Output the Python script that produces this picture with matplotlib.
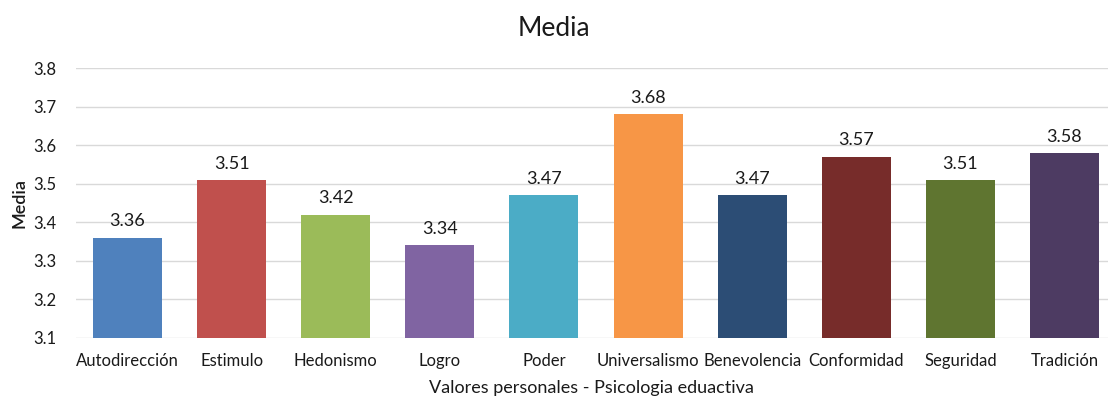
import matplotlib
matplotlib.use("Agg")
import matplotlib.pyplot as plt

categories = ["Autodirección", "Estimulo", "Hedonismo", "Logro", "Poder",
              "Universalismo", "Benevolencia", "Conformidad", "Seguridad", "Tradición"]
values = [3.36, 3.51, 3.42, 3.34, 3.47, 3.68, 3.47, 3.57, 3.51, 3.58]
colors = ["#4F81BD", "#C0504D", "#9BBB59", "#8064A2", "#4BACC6",
          "#F79646", "#2C4D75", "#772C2A", "#5F7530", "#4D3B62"]
yticks = [3.1, 3.2, 3.3, 3.4, 3.5, 3.6, 3.7, 3.8]

plt.rcParams['font.family'] = ['Lato', 'DejaVu Sans']
text_color = "#1a1a1a"

fig = plt.figure(figsize=(11.08, 4.01), dpi=100)
ax = fig.add_axes([75.5 / 1108, (401 - 338) / 401, (1108 - 75.5) / 1108, (338 - 68) / 401])

x = list(range(len(categories)))
ax.bar(x, [v - 3.1 for v in values], bottom=3.1, width=0.663, color=colors, zorder=3)
for xi, v in zip(x, values):
    ax.annotate(f"{v:.2f}", (xi, v), xytext=(0, 6), textcoords="offset points",
                ha="center", va="bottom", fontsize=13, color=text_color)

ax.set_ylim(3.1, 3.8)
ax.set_xlim(-0.5, 9.5 - 8.5 / 104.1)
ax.set_yticks(yticks)
ax.set_yticklabels([f"{t:.1f}" for t in yticks])
ax.set_xticks(x)
ax.set_xticklabels(categories)
ax.yaxis.grid(True, color="#D9D9D9", linewidth=1, zorder=0)
ax.set_axisbelow(True)
for s in ax.spines.values():
    s.set_visible(False)
ax.tick_params(axis="both", length=0, labelsize=12, colors=text_color)
ax.tick_params(axis="y", pad=14)
ax.tick_params(axis="x", pad=11)

ax.set_ylabel("Media", fontsize=13, color=text_color, fontweight="semibold")
ax.yaxis.set_label_coords(-48 / (1108 - 75.5), 0.5)
ax.set_xlabel("Valores personales - Psicologia eduactiva", fontsize=13, color=text_color, labelpad=8)
fig.text(0.5, 1 - 28 / 401, "Media", ha="center", va="center", fontsize=19, color=text_color)

fig.savefig("out.png", dpi=100)
